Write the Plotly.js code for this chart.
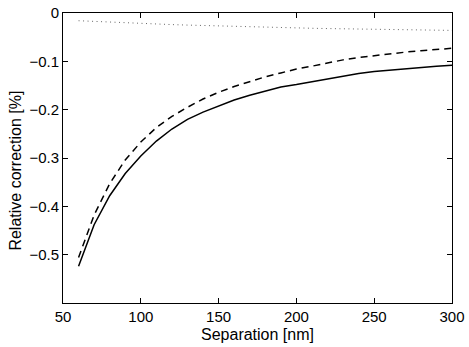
<!DOCTYPE html>
<html>
<head>
<meta charset="utf-8">
<script src="https://cdn.plot.ly/plotly-3.0.1.min.js"></script>
<style>
  html, body { margin: 0; padding: 0; background: #fff; }
  #chart { width: 469px; height: 347px; }
</style>
</head>
<body>
<div id="chart"></div>
<script>
const separation = [60, 70, 80, 90, 100, 110, 120, 130, 140, 150, 160, 170, 180,
                    190, 200, 210, 220, 230, 240, 250, 260, 270, 280, 290, 300];

const solidCorr = [-0.524, -0.438, -0.378, -0.332, -0.296, -0.265, -0.240, -0.220, -0.205,
                   -0.192, -0.180, -0.170, -0.161, -0.153, -0.148, -0.142, -0.136, -0.130,
                   -0.125, -0.121, -0.118, -0.115, -0.113, -0.110, -0.108];

const dashedCorr = [-0.506, -0.418, -0.353, -0.304, -0.267, -0.237, -0.214, -0.195, -0.178,
                    -0.164, -0.152, -0.142, -0.132, -0.124, -0.116, -0.110, -0.103, -0.097,
                    -0.092, -0.088, -0.084, -0.081, -0.078, -0.0755, -0.073];

const dottedCorr = [-0.016, -0.0175, -0.019, -0.0205, -0.022, -0.023, -0.024, -0.025, -0.026,
                    -0.027, -0.028, -0.0287, -0.0295, -0.0302, -0.031, -0.0316, -0.0322, -0.0328,
                    -0.0334, -0.034, -0.0344, -0.0348, -0.0352, -0.0356, -0.036];

const xTicks = [50, 100, 150, 200, 250, 300];
const yTicks = [0, -0.1, -0.2, -0.3, -0.4, -0.5];

const font = 'Liberation Sans, Arial, Helvetica, sans-serif';

const traces = [
  { x: separation, y: dottedCorr, mode: 'lines', line: {color: '#666', width: 1, dash: '1px,3.5px'} },
  { x: separation, y: dashedCorr, mode: 'lines', line: {color: '#000', width: 1.5, dash: '7px,5px'} },
  { x: separation, y: solidCorr, mode: 'lines', line: {color: '#000', width: 1.5} }
];

const layout = {
  width: 469,
  height: 347,
  margin: {l: 63, r: 17, t: 13, b: 44},
  showlegend: false,
  paper_bgcolor: '#fff',
  plot_bgcolor: '#fff',
  font: {family: font, size: 15, color: '#000'},
  xaxis: {
    range: [50, 300],
    tickvals: xTicks,
    ticktext: xTicks.map(String),
    ticks: 'inside',
    ticklen: 5,
    tickcolor: '#000',
    showline: true,
    linecolor: '#000',
    linewidth: 1,
    mirror: 'ticks',
    showgrid: false,
    zeroline: false,
    title: {text: 'Separation [nm]', font: {size: 16}, standoff: 4}
  },
  yaxis: {
    range: [-0.6, 0],
    tickvals: yTicks,
    ticks: 'inside',
    ticklen: 5,
    tickcolor: '#000',
    showline: true,
    linecolor: '#000',
    linewidth: 1,
    mirror: 'ticks',
    showgrid: false,
    zeroline: false
  },
  // y title as annotation so its position can be set exactly
  annotations: [{
    text: 'Relative correction [%]',
    textangle: -90,
    xref: 'paper', yref: 'paper',
    x: -0.123, y: 0.457,
    xanchor: 'center', yanchor: 'middle',
    showarrow: false,
    font: {size: 16}
  }]
};

Plotly.newPlot('chart', traces, layout, {displayModeBar: false, staticPlot: true});
</script>
</body>
</html>
